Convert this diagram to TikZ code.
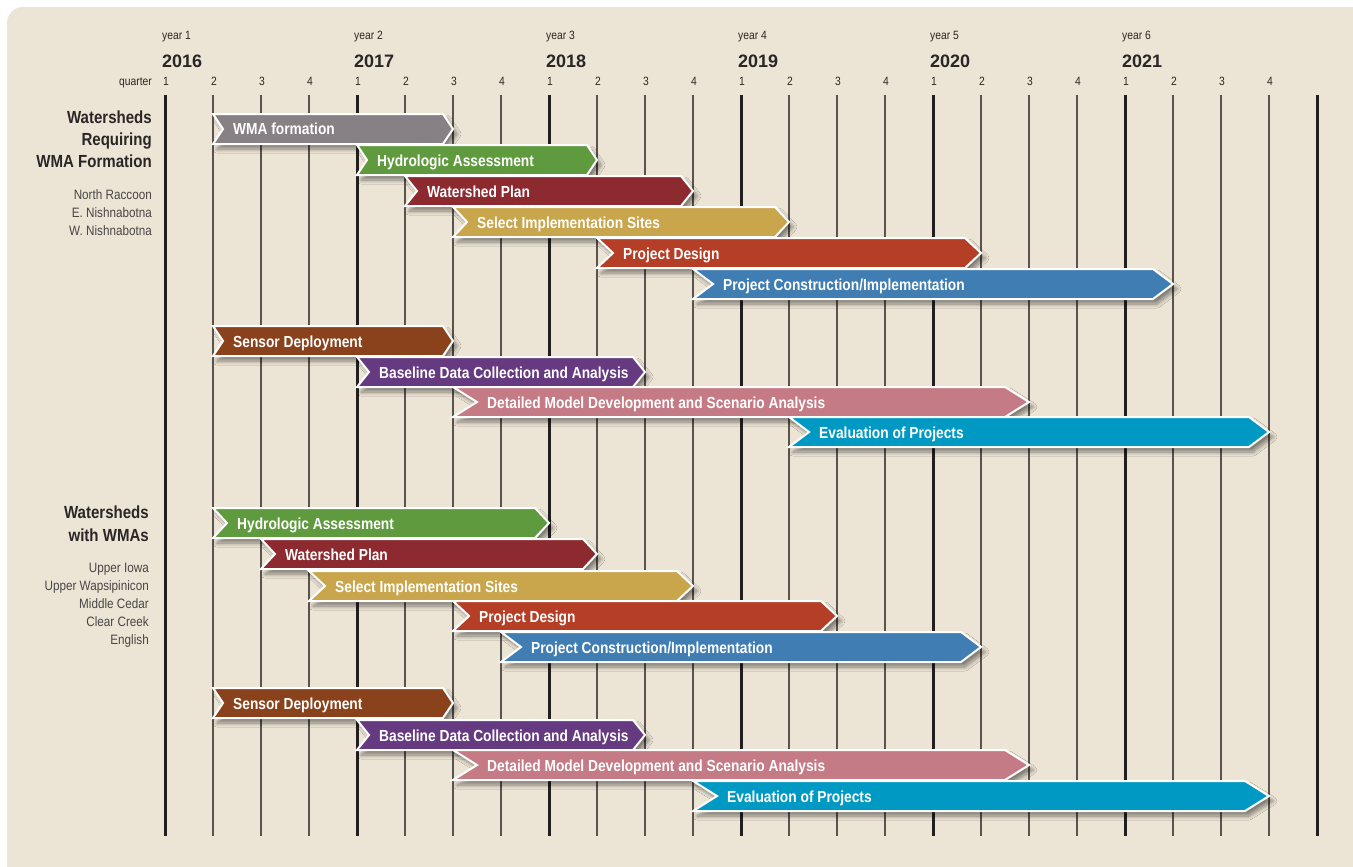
\documentclass[tikz,border=0pt]{standalone}
\usepackage{fontspec}
\setmainfont{Liberation Sans}[FakeStretch = 0.86]
\newfontfamily\yearfont{Liberation Sans}
\usetikzlibrary{shadows.blur}

\definecolor{paper}{HTML}{ECE4D5}
\definecolor{gridgray}{HTML}{5A524D}
\definecolor{gridblack}{HTML}{231F20}
\definecolor{headtext}{HTML}{2B2626}
\definecolor{subtext}{HTML}{4A4545}
\definecolor{wmagray}{HTML}{878084}
\definecolor{hydrogreen}{HTML}{5F9A3F}
\definecolor{planred}{HTML}{8C2A30}
\definecolor{sitegold}{HTML}{C9A54C}
\definecolor{designred}{HTML}{B53F26}
\definecolor{buildblue}{HTML}{3F7DB3}
\definecolor{sensorbrown}{HTML}{8A421C}
\definecolor{basepurple}{HTML}{663A80}
\definecolor{modelpink}{HTML}{C57B86}
\definecolor{evalcyan}{HTML}{0099C4}

% one chevron bar: row y, first quarter, last quarter, colour, name, text
\newcommand{\ganttbar}[6]{%
  \pgfmathsetmacro{\barxa}{165+48*#2}%
  \pgfmathsetmacro{\barxb}{165+48*#3}%
  \pgfmathsetmacro{\bartip}{2*(#3-#2)}%
  \filldraw [bar, fill = #4] (\barxa, #1-15) -- (\barxb-\bartip, #1-15)
    -- (\barxb, #1) -- (\barxb-\bartip, #1+15) -- (\barxa, #1+15)
    -- (\barxa+\bartip, #1) -- cycle;
  \node at (\barxa+\bartip+10, #1+6) [barlabel, name = #5] {#6};
}

\begin{document}
\begin{tikzpicture}[
    x = 1pt, y = -1pt,
    quarterline/.style = {draw = gridgray, line width = 1.2pt},
    yearline/.style = {draw = gridblack, line width = 3pt},
    bar/.style = {draw = white, line width = 2pt, line join = miter,
      blur shadow = {shadow xshift = 4pt, shadow yshift = -5pt,
        shadow blur radius = 4pt, shadow blur steps = 8,
        shadow opacity = 45}},
    barlabel/.style = {anchor = base west, inner sep = 0pt, text = white,
      font = \fontsize{16}{19}\selectfont\bfseries},
    yearlabel/.style = {anchor = base west, inner sep = 0pt, text = headtext,
      font = \yearfont\fontsize{18}{20}\selectfont\bfseries},
    smalllabel/.style = {anchor = base west, inner sep = 0pt, text = headtext,
      font = \fontsize{12}{14}\selectfont},
    grouplabel/.style = {anchor = base east, inner sep = 0pt, text = headtext,
      font = \fontsize{17.5}{21}\selectfont\bfseries},
    shedlabel/.style = {anchor = base east, inner sep = 0pt, text = subtext,
      font = \fontsize{13.6}{16}\selectfont}
    ]
    \useasboundingbox (0, 0) rectangle (1353, 867);
    \fill [paper, rounded corners = 16pt] (7, 7) rectangle (1390, 900);

    % time axis
    \foreach \q in {0, ..., 24} {
      \pgfmathtruncatemacro{\qmod}{mod(\q, 4)}
      \ifnum\qmod=0
        \draw [yearline] (165+48*\q, 95) -- (165+48*\q, 836);
      \else
        \draw [quarterline] (165+48*\q, 95) -- (165+48*\q, 836);
      \fi
    }
    \foreach \q in {0, ..., 23} {
      \pgfmathtruncatemacro{\qnum}{mod(\q, 4)+1}
      \node at (163+48*\q, 85) [smalllabel, name = q\q] {\qnum};
    }
    \foreach \yr in {1, ..., 6} {
      \pgfmathtruncatemacro{\cal}{2015+\yr}
      \pgfmathsetmacro{\yrx}{162+192*(\yr-1)}
      \node at (\yrx, 40) [smalllabel, name = yr\yr] {year \yr};
      \node at (\yrx, 67) [yearlabel, name = cal\yr] {\cal};
    }
    \node at (152, 85) [smalllabel, anchor = base east, name = quarter] {quarter};

    % watersheds requiring WMA formation
    \node at (152, 123) [grouplabel, name = req1] {Watersheds};
    \node at (152, 145) [grouplabel, name = req2] {Requiring};
    \node at (152, 167) [grouplabel, name = req3] {WMA Formation};
    \node at (152, 199) [shedlabel, name = raccoon] {North Raccoon};
    \node at (152, 217) [shedlabel, name = enish] {E. Nishnabotna};
    \node at (152, 235) [shedlabel, name = wnish] {W. Nishnabotna};

    \ganttbar{129}{1}{6}{wmagray}{a-wma}{WMA formation}
    \ganttbar{160}{4}{9}{hydrogreen}{a-hydro}{Hydrologic Assessment}
    \ganttbar{191}{5}{11}{planred}{a-plan}{Watershed Plan}
    \ganttbar{222}{6}{13}{sitegold}{a-sites}{Select Implementation Sites}
    \ganttbar{253}{9}{17}{designred}{a-design}{Project Design}
    \ganttbar{284}{11}{21}{buildblue}{a-build}{Project Construction/Implementation}
    \ganttbar{341}{1}{6}{sensorbrown}{a-sensor}{Sensor Deployment}
    \ganttbar{372}{4}{10}{basepurple}{a-base}{Baseline Data Collection and Analysis}
    \ganttbar{402}{6}{18}{modelpink}{a-model}{Detailed Model Development and Scenario Analysis}
    \ganttbar{432}{13}{23}{evalcyan}{a-eval}{Evaluation of Projects}

    % watersheds with WMAs
    \node at (149, 518) [grouplabel, name = with1] {Watersheds};
    \node at (149, 541) [grouplabel, name = with2] {with WMAs};
    \node at (149, 572) [shedlabel, name = upiowa] {Upper Iowa};
    \node at (149, 590) [shedlabel, name = wapsi] {Upper Wapsipinicon};
    \node at (149, 608) [shedlabel, name = cedar] {Middle Cedar};
    \node at (149, 626) [shedlabel, name = clear] {Clear Creek};
    \node at (149, 644) [shedlabel, name = english] {English};

    \ganttbar{523}{1}{8}{hydrogreen}{b-hydro}{Hydrologic Assessment}
    \ganttbar{554}{2}{9}{planred}{b-plan}{Watershed Plan}
    \ganttbar{586}{3}{11}{sitegold}{b-sites}{Select Implementation Sites}
    \ganttbar{616}{6}{14}{designred}{b-design}{Project Design}
    \ganttbar{647}{7}{17}{buildblue}{b-build}{Project Construction/Implementation}
    \ganttbar{703}{1}{6}{sensorbrown}{b-sensor}{Sensor Deployment}
    \ganttbar{735}{4}{10}{basepurple}{b-base}{Baseline Data Collection and Analysis}
    \ganttbar{765}{6}{18}{modelpink}{b-model}{Detailed Model Development and Scenario Analysis}
    \ganttbar{796}{11}{23}{evalcyan}{b-eval}{Evaluation of Projects}
  \end{tikzpicture}
\end{document}
